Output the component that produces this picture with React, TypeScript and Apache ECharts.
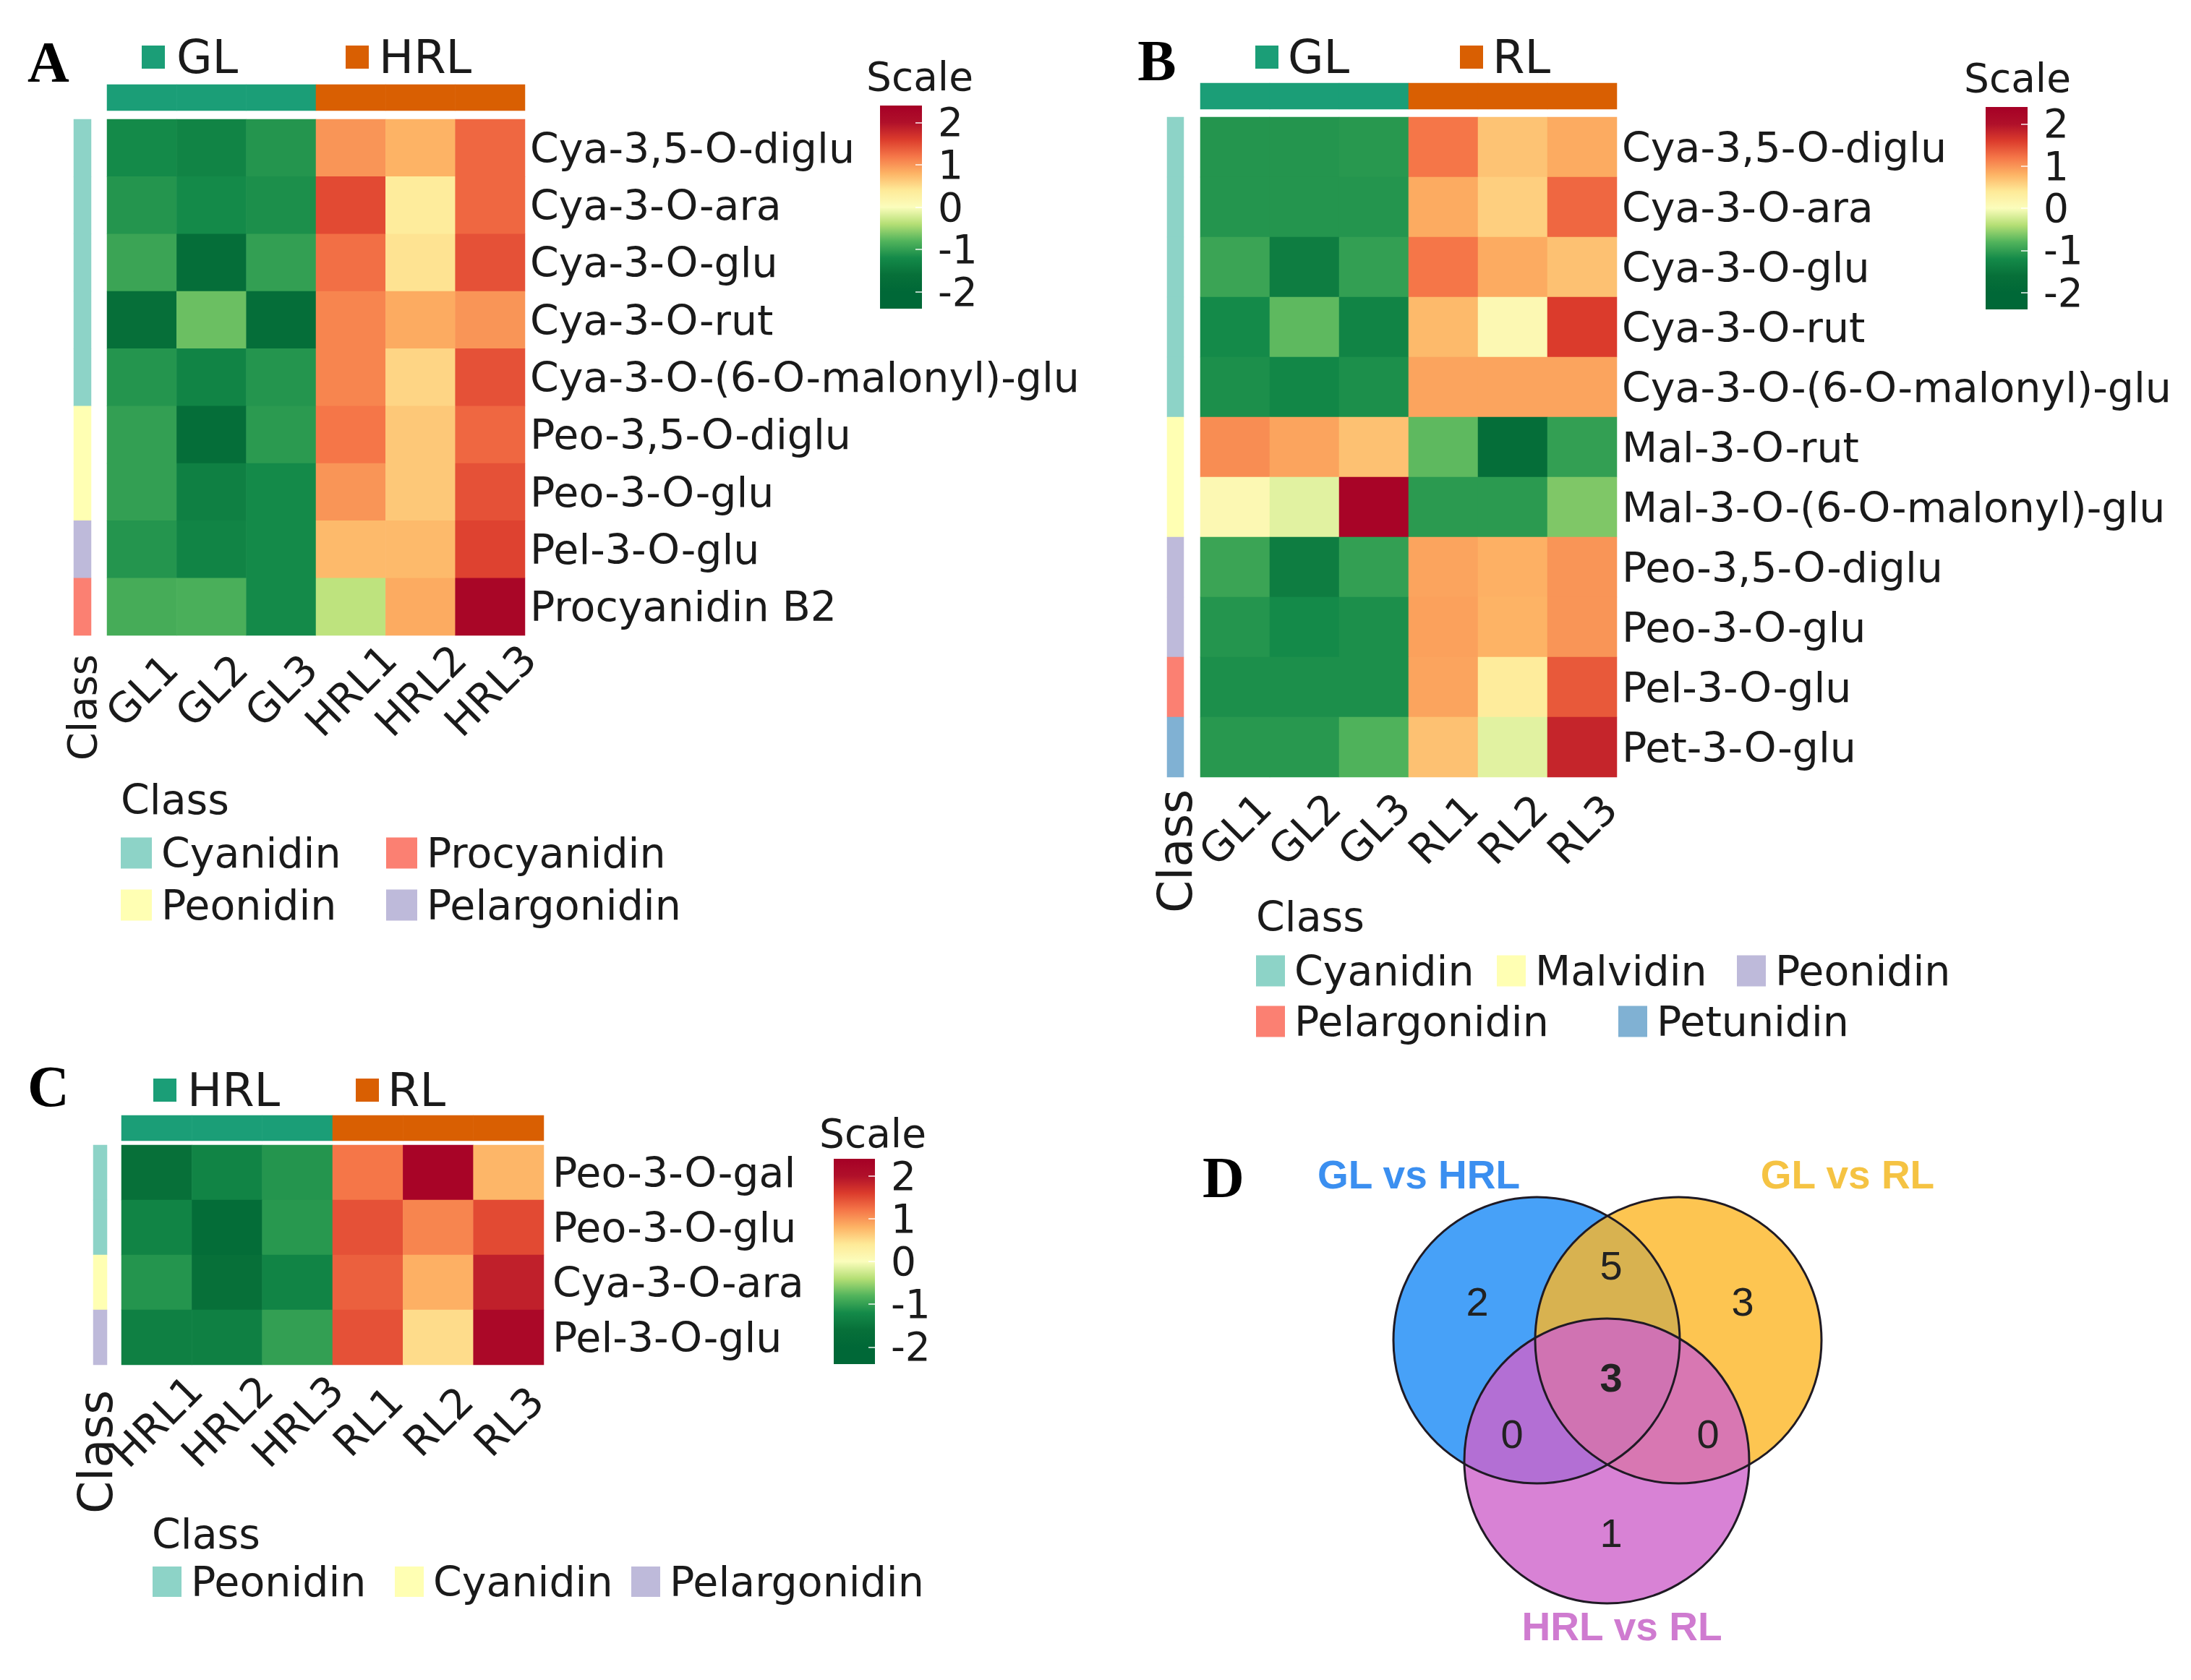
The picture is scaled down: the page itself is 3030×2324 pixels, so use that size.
import React, { useEffect, useRef } from 'react';
import * as echarts from 'echarts';

// ---------------- DATA ----------------
const samplesA = ['GL1', 'GL2', 'GL3', 'HRL1', 'HRL2', 'HRL3'];
const groupsA = ['GL', 'GL', 'GL', 'HRL', 'HRL', 'HRL'];
const rowsA = ['Cya-3,5-O-diglu', 'Cya-3-O-ara', 'Cya-3-O-glu', 'Cya-3-O-rut', 'Cya-3-O-(6-O-malonyl)-glu', 'Peo-3,5-O-diglu', 'Peo-3-O-glu', 'Pel-3-O-glu', 'Procyanidin B2'];
const classesA = ['Cyanidin', 'Cyanidin', 'Cyanidin', 'Cyanidin', 'Cyanidin', 'Peonidin', 'Peonidin', 'Pelargonidin', 'Procyanidin'];
const valuesA = [
  [-1.2, -1.3, -1.1, 1.0, 0.8, 1.3],
  [-1.1, -1.2, -1.15, 1.5, 0.35, 1.3],
  [-0.95, -1.7, -1.0, 1.25, 0.45, 1.45],
  [-1.65, -0.7, -1.7, 1.1, 0.85, 1.0],
  [-1.1, -1.3, -1.1, 1.1, 0.55, 1.45],
  [-1.0, -1.7, -1.05, 1.2, 0.65, 1.3],
  [-1.0, -1.35, -1.2, 1.0, 0.65, 1.45],
  [-1.1, -1.3, -1.2, 0.75, 0.75, 1.55],
  [-0.88, -0.85, -1.2, -0.35, 0.85, 2.25],
];
const legendOrderA = ['Cyanidin', 'Procyanidin', 'Peonidin', 'Pelargonidin'];

const samplesB = ['GL1', 'GL2', 'GL3', 'RL1', 'RL2', 'RL3'];
const groupsB = ['GL', 'GL', 'GL', 'RL', 'RL', 'RL'];
const rowsB = ['Cya-3,5-O-diglu', 'Cya-3-O-ara', 'Cya-3-O-glu', 'Cya-3-O-rut', 'Cya-3-O-(6-O-malonyl)-glu', 'Mal-3-O-rut', 'Mal-3-O-(6-O-malonyl)-glu', 'Peo-3,5-O-diglu', 'Peo-3-O-glu', 'Pel-3-O-glu', 'Pet-3-O-glu'];
const classesB = ['Cyanidin', 'Cyanidin', 'Cyanidin', 'Cyanidin', 'Cyanidin', 'Malvidin', 'Malvidin', 'Peonidin', 'Peonidin', 'Pelargonidin', 'Petunidin'];
const valuesB = [
  [-1.1, -1.1, -1.07, 1.2, 0.68, 0.85],
  [-1.1, -1.1, -1.1, 0.85, 0.6, 1.3],
  [-0.95, -1.4, -1.0, 1.2, 0.85, 0.7],
  [-1.2, -0.75, -1.3, 0.75, 0.1, 1.6],
  [-1.15, -1.25, -1.15, 0.9, 0.9, 0.9],
  [1.05, 0.9, 0.7, -0.75, -1.7, -1.0],
  [0.1, -0.15, 2.3, -1.05, -1.05, -0.62],
  [-0.95, -1.4, -1.0, 0.9, 0.82, 1.0],
  [-1.1, -1.2, -1.15, 0.92, 0.8, 1.0],
  [-1.15, -1.15, -1.15, 0.9, 0.35, 1.4],
  [-1.07, -1.07, -0.82, 0.7, -0.15, 1.8],
];
const legendOrderB = ['Cyanidin', 'Malvidin', 'Peonidin', 'Pelargonidin', 'Petunidin'];

const samplesC = ['HRL1', 'HRL2', 'HRL3', 'RL1', 'RL2', 'RL3'];
const groupsC = ['HRL', 'HRL', 'HRL', 'RL', 'RL', 'RL'];
const rowsC = ['Peo-3-O-gal', 'Peo-3-O-glu', 'Cya-3-O-ara', 'Pel-3-O-glu'];
const classesC = ['Peonidin', 'Peonidin', 'Cyanidin', 'Pelargonidin'];
const valuesC = [
  [-1.6, -1.3, -1.1, 1.2, 2.3, 0.78],
  [-1.3, -1.75, -1.07, 1.45, 1.1, 1.5],
  [-1.1, -1.6, -1.3, 1.35, 0.82, 1.85],
  [-1.35, -1.35, -1.0, 1.45, 0.5, 2.2],
];
const legendOrderC = ['Peonidin', 'Cyanidin', 'Pelargonidin'];

const scaleTicks = [-2, -1, 0, 1, 2];

const vennSets = ['GL vs HRL', 'GL vs RL', 'HRL vs RL'];
const vennRegions = ['A', 'B', 'C', 'AB', 'AC', 'BC', 'ABC'];
const vennCounts = [2, 3, 1, 5, 0, 0, 3];

// ---------------- STYLE ----------------
const W = 3030;
const H = 2324;
const FONT = 'DejaVu Sans';
const SERIF = 'Liberation Serif';
const SANS = 'Liberation Sans';
const TXT = '#1a1a1a';
const SCALE_MIN = -2.4;
const SCALE_MAX = 2.4;
const SCALE_COLORS = ['#006837', '#006837', '#077039', '#148a49', '#52b45c', '#b5df75', '#fbfdbc', '#feea98', '#fdb365', '#f57648', '#db3b2c', '#b0102a', '#a50026'];
const GROUP_COLORS = ['#1B9E77', '#D95F02'];
const CLASS_PALETTE = ['#8DD3C7', '#FFFFB3', '#BEBADA', '#FB8072', '#80B1D3'];

const VENN_FILL = ['rgba(25,137,246,0.8)', 'rgba(253,183,37,0.8)', 'rgba(206,99,203,0.8)'];
const VENN_TITLE_COLORS = ['#3b8ff0', '#f5c343', '#cf7bd0'];

const panels = [
  {
    letter: 'A', samples: samplesA, groups: groupsA, rows: rowsA, classes: classesA, values: valuesA, legendOrder: legendOrderA,
    heat: { l: 148, t: 165, w: 578, h: 714 }, top: { t: 117, h: 36 }, side: { l: 102, w: 24 },
    cb: { x: 1217, y: 146, w: 58, h: 281 }, scaleText: { x: 1198, y: 106 }, letterPos: { x: 67, y: 86 },
    legendY: 79, groupLegend: [{ sq: 196, tx: 244 }, { sq: 478, tx: 524 }], labelMargin: 7, colLabelMargin: 76,
    classText: { x: 113, y: 905, size: 56 },
    classLegend: { titleX: 167, titleY: 1106, sqW: 43, sqH: 43, items: [[167, 1180], [534, 1180], [167, 1252], [534, 1252]] },
  },
  {
    letter: 'B', samples: samplesB, groups: groupsB, rows: rowsB, classes: classesB, values: valuesB, legendOrder: legendOrderB,
    heat: { l: 1660, t: 162, w: 576, h: 913 }, top: { t: 115, h: 36 }, side: { l: 1614, w: 23 },
    cb: { x: 2746, y: 148, w: 58, h: 280 }, scaleText: { x: 2716, y: 108 }, letterPos: { x: 1600, y: 84 },
    legendY: 79, groupLegend: [{ sq: 1736, tx: 1781 }, { sq: 2019, tx: 2064 }], labelMargin: 7, colLabelMargin: 72,
    classText: { x: 1625, y: 1092, size: 65 },
    classLegend: { titleX: 1737, titleY: 1268, sqW: 40, sqH: 43, items: [[1737, 1343], [2070, 1343], [2402, 1343], [1737, 1413], [2238, 1413]] },
  },
  {
    letter: 'C', samples: samplesC, groups: groupsC, rows: rowsC, classes: classesC, values: valuesC, legendOrder: legendOrderC,
    heat: { l: 168, t: 1584, w: 584, h: 304 }, top: { t: 1543, h: 35 }, side: { l: 129, w: 19 },
    cb: { x: 1153, y: 1603, w: 57, h: 284 }, scaleText: { x: 1133, y: 1568 }, letterPos: { x: 67, y: 1503 },
    legendY: 1508, groupLegend: [{ sq: 212, tx: 259 }, { sq: 492, tx: 536 }], labelMargin: 12, colLabelMargin: 78,
    classText: { x: 132, y: 1923, size: 65 },
    classLegend: { titleX: 210, titleY: 2122, sqW: 40, sqH: 42, items: [[211, 2188], [546, 2188], [873, 2188]] },
  },
];

const vennLayout = {
  circles: [{ cx: 2125, cy: 1854, r: 198 }, { cx: 2321, cy: 1854, r: 198 }, { cx: 2222, cy: 2021, r: 197 }],
  titles: [[1962, 1625], [2555, 1625], [2243, 2250]],
  regions: { A: [2043, 1800], B: [2410, 1800], C: [2228, 2120], AB: [2228, 1750], AC: [2091, 1983], BC: [2362, 1983], ABC: [2228, 1905] } as Record<string, number[]>,
  letter: [1692, 1629],
};

// ---------------- HELPERS ----------------
function txt(text: string, x: number, y: number, size: number, o: any = {}) {
  const align = o.align || 'left';
  const va = o.va || 'middle';
  return {
    type: 'text', x, y, rotation: o.rot || 0, z: 20,
    style: {
      text, fill: o.color || TXT,
      font: `${o.weight || 'normal'} ${size}px "${o.family || FONT}"`,
      textAlign: align, textVerticalAlign: va, align, verticalAlign: va,
    },
  };
}

function rect(x: number, y: number, w: number, h: number, fill: any, z = 5) {
  return { type: 'rect', z, shape: { x, y, width: w, height: h }, style: { fill } };
}

function heatData(values: number[][]) {
  const out: number[][] = [];
  values.forEach((row, r) => row.forEach((v, c) => out.push([c, r, v])));
  return out;
}

function uniqueOrder(list: string[]) {
  const out: string[] = [];
  list.forEach((s) => { if (!out.includes(s)) out.push(s); });
  return out;
}

function buildOption() {
  const grid: any[] = [];
  const xAxis: any[] = [];
  const yAxis: any[] = [];
  const mainSeries: any[] = [];
  const annoSeries: any[] = [];
  const graphics: any[] = [];
  const groupSeriesIdx: number[] = [];
  const classSeriesIdx: number[] = [];

  const gradStops = SCALE_COLORS.map((c, i) => ({ offset: i / (SCALE_COLORS.length - 1), color: SCALE_COLORS[SCALE_COLORS.length - 1 - i] }));
  const hidden = { show: false };

  panels.forEach((p, k) => {
    const base = k * 4;
    const gHeat = base, gTop = base + 1, gSide = base + 2, gCb = base + 3;
    const groupOrder = uniqueOrder(p.groups);
    const classOrder = uniqueOrder(p.classes);
    const classColor = (c: string) => CLASS_PALETTE[classOrder.indexOf(c)];
    const groupColor = (g: string) => GROUP_COLORS[groupOrder.indexOf(g)];

    grid.push({ left: p.heat.l, top: p.heat.t, width: p.heat.w, height: p.heat.h });
    grid.push({ left: p.heat.l, top: p.top.t, width: p.heat.w, height: p.top.h });
    grid.push({ left: p.side.l, top: p.heat.t, width: p.side.w, height: p.heat.h });
    grid.push({ left: p.cb.x, top: p.cb.y, width: p.cb.w, height: p.cb.h });

    xAxis.push({
      gridIndex: gHeat, type: 'category', data: p.samples, position: 'bottom',
      axisLine: hidden, axisTick: hidden, splitLine: hidden,
      axisLabel: { interval: 0, rotate: 45, align: 'center', verticalAlign: 'middle', margin: p.colLabelMargin, fontSize: 57, fontFamily: FONT, color: TXT },
    });
    yAxis.push({
      gridIndex: gHeat, type: 'category', data: p.rows, inverse: true, position: 'right',
      axisLine: hidden, axisTick: hidden, splitLine: hidden,
      axisLabel: { interval: 0, margin: p.labelMargin, fontSize: 57, fontFamily: FONT, color: TXT },
    });
    xAxis.push({ gridIndex: gTop, type: 'category', data: p.samples, show: false });
    yAxis.push({ gridIndex: gTop, type: 'category', data: ['Group'], show: false });
    xAxis.push({ gridIndex: gSide, type: 'category', data: ['Class'], show: false });
    yAxis.push({ gridIndex: gSide, type: 'category', data: p.rows, inverse: true, show: false });
    xAxis.push({ gridIndex: gCb, type: 'category', data: ['Scale'], show: false });
    yAxis.push({
      gridIndex: gCb, type: 'value', min: SCALE_MIN, max: SCALE_MAX, position: 'right', z: 10,
      axisLine: hidden, splitLine: hidden,
      axisTick: { show: true, inside: true, length: 9, customValues: scaleTicks, lineStyle: { color: 'rgba(255,255,255,0.7)', width: 2 } },
      axisLabel: { customValues: scaleTicks, margin: 22, fontSize: 55, fontFamily: FONT, color: TXT, formatter: (v: number) => (v < 0 ? '-' + Math.abs(v) : String(v)) },
    });

    mainSeries.push({
      type: 'heatmap', name: p.letter, xAxisIndex: gHeat, yAxisIndex: gHeat,
      data: heatData(p.values), itemStyle: { borderWidth: 0 }, emphasis: { disabled: true }, progressive: 0,
    });
    groupSeriesIdx.push(3 + annoSeries.length);
    annoSeries.push({
      type: 'heatmap', name: p.letter + '-group', xAxisIndex: gTop, yAxisIndex: gTop, emphasis: { disabled: true },
      data: p.groups.map((g, c) => [c, 0, groupOrder.indexOf(g)]),
    });
    classSeriesIdx.push(3 + annoSeries.length);
    annoSeries.push({
      type: 'heatmap', name: p.letter + '-class', xAxisIndex: gSide, yAxisIndex: gSide, emphasis: { disabled: true },
      data: p.classes.map((cl, r) => [0, r, classOrder.indexOf(cl)]),
    });

    graphics.push(rect(p.cb.x, p.cb.y, p.cb.w, p.cb.h, new echarts.graphic.LinearGradient(0, 0, 0, 1, gradStops), 1));
    graphics.push(txt('Scale', p.scaleText.x, p.scaleText.y, 55));
    graphics.push(txt(p.letter, p.letterPos.x, p.letterPos.y, 80, { family: SERIF, weight: 'bold', align: 'center', color: '#000' }));
    groupOrder.forEach((g, i) => {
      const gl = p.groupLegend[i];
      graphics.push(rect(gl.sq, p.legendY - 16, 32, 32, groupColor(g)));
      graphics.push(txt(g, gl.tx, p.legendY, 64));
    });
    graphics.push(txt('Class', p.classText.x, p.classText.y, p.classText.size, { rot: Math.PI / 2, align: 'right' }));
    const cl = p.classLegend;
    graphics.push(txt('Class', cl.titleX, cl.titleY, 57));
    p.legendOrder.forEach((name, i) => {
      const [x, y] = cl.items[i];
      graphics.push(rect(x, y - cl.sqH / 2, cl.sqW, cl.sqH, classColor(name)));
      graphics.push(txt(name, x + cl.sqW + 13, y, 57));
    });
  });

  const V = vennLayout;
  V.circles.forEach((c, i) => {
    graphics.push({ type: 'circle', z: 5 + i, shape: { cx: c.cx, cy: c.cy, r: c.r }, style: { fill: VENN_FILL[i], stroke: 'none' } });
  });
  V.circles.forEach((c) => {
    graphics.push({ type: 'circle', z: 9, shape: { cx: c.cx, cy: c.cy, r: c.r }, style: { fill: 'none', stroke: '#1f1a24', lineWidth: 3 } });
  });
  vennSets.forEach((s, i) => {
    graphics.push(txt(s, V.titles[i][0], V.titles[i][1], 55, { family: SANS, weight: 'bold', align: 'center', color: VENN_TITLE_COLORS[i] }));
  });
  vennRegions.forEach((reg, i) => {
    const [x, y] = V.regions[reg];
    graphics.push(txt(String(vennCounts[i]), x, y, 56, { family: SANS, weight: reg === 'ABC' ? 'bold' : 'normal', align: 'center', color: '#222' }));
  });
  graphics.push(txt('D', V.letter[0], V.letter[1], 80, { family: SERIF, weight: 'bold', align: 'center', color: '#000' }));

  return {
    animation: false,
    backgroundColor: '#ffffff',
    grid,
    xAxis,
    yAxis,
    visualMap: [
      { type: 'continuous', show: false, min: SCALE_MIN, max: SCALE_MAX, dimension: 2, seriesIndex: [0, 1, 2], inRange: { color: SCALE_COLORS } },
      { type: 'piecewise', show: false, dimension: 2, seriesIndex: groupSeriesIdx, pieces: GROUP_COLORS.map((c, i) => ({ value: i, color: c })) },
      { type: 'piecewise', show: false, dimension: 2, seriesIndex: classSeriesIdx, pieces: CLASS_PALETTE.map((c, i) => ({ value: i, color: c })) },
    ],
    series: [...mainSeries, ...annoSeries],
    graphic: { elements: graphics },
  };
}

export default function App() {
  const ref = useRef<HTMLDivElement>(null);
  useEffect(() => {
    document.body.style.margin = '0';
    const chart = echarts.init(ref.current as HTMLDivElement, null, { renderer: 'svg', width: W, height: H });
    chart.setOption(buildOption() as any);
    return () => chart.dispose();
  }, []);
  return <div ref={ref} style={{ width: W, height: H, background: '#fff' }} />;
}
